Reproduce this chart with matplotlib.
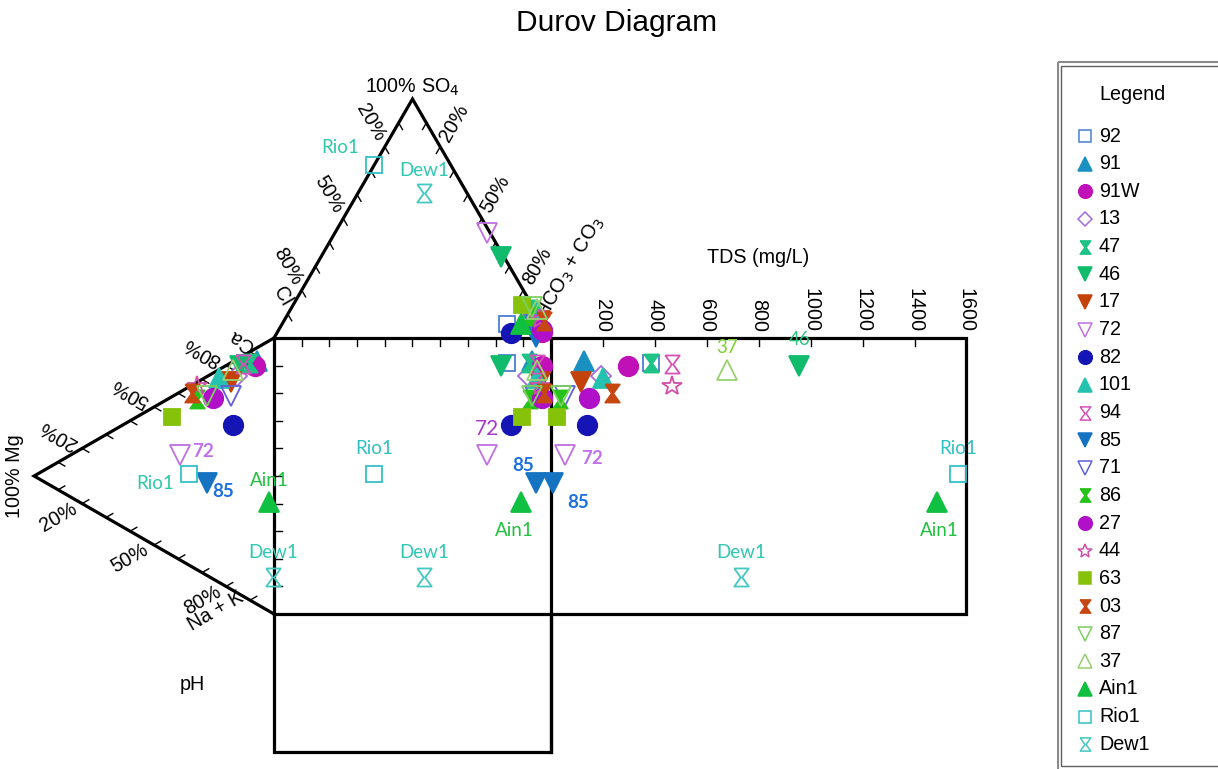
import numpy as np
import matplotlib
matplotlib.use('Agg')
import matplotlib.pyplot as plt
from matplotlib.patches import Rectangle

plt.rcParams['font.family'] = ['Liberation Sans', 'DejaVu Sans']

# sample chemistry: cation % (Na+K is the rest), anion % (Cl is the rest), TDS in mg/L
samples = ['92', '91', '91W', '13', '47', '46', '17', '72', '82', '101', '94', '85',
           '71', '86', '27', '44', '63', '03', '87', '37', 'Ain1', 'Rio1', 'Dew1']
ca = [85, 88, 86, 78.5, 86, 83, 75, 38, 60, 74, 84, 33.5,
      70, 62, 65.5, 66.5, 50, 63, 65, 80, 39.5, 33, 13]
mg = [12, 7, 8, 15.5, 10, 14, 18, 39, 17, 23, 13, 28,
      18, 32, 25.5, 32, 42.5, 34, 28, 17, 2, 35.5, 0.5]
so4 = [6, 8, 2.5, 7.5, 12, 34, 7, 44, 2, 11, 8, 0.5,
       5.5, 9, 3.5, 8, 14, 7, 13, 12, 6, 72.5, 60.5]
hco3 = [81, 89, 95.5, 88, 86, 65, 92.5, 55, 84.5, 89.5, 91, 94.5,
        91.5, 88, 95, 92, 82.5, 94, 86.5, 89, 86, 0, 24]
tds = [386, 127, 297, 193, 386, 956, 116, 54, 139, 200, 466, 8,
       54, 35, 146, 466, 23, 235, 40, 678, 1488, 1569, 732]

tds_ticks = [200, 400, 600, 800, 1000, 1200, 1400, 1600]
pct_ticks = [20, 50, 80]

HG = [(-0.8, 1), (0.8, 1), (0.08, 0), (0.8, -1), (-0.8, -1), (-0.08, 0), (-0.8, 1)]
# marker, colour, filled
styles = [('s', '#4a7fd0', False), ('^', '#1a90c0', True), ('o', '#c010b8', True),
          ('D', '#a56ad8', False), (HG, '#1ec285', True), ('v', '#10bb6c', True),
          ('v', '#c4420a', True), ('v', '#c070e0', False), ('o', '#1515b5', True),
          ('^', '#25c2b0', True), (HG, '#d452b8', False), ('v', '#1673c2', True),
          ('v', '#6060d8', False), (HG, '#26c21a', True), ('o', '#b010c8', True),
          ('*', '#d050a8', False), ('s', '#86c20a', True), (HG, '#c64810', True),
          ('v', '#7dd060', False), ('^', '#98d070', False), ('^', '#10c040', True),
          ('s', '#35c0c8', False), (HG, '#45c8c0', False)]


def msize(m, legend=False):
    if isinstance(m, list):
        return 9.5 if legend else 13
    base = {'o': 14, 's': 11.5, '^': 14, 'v': 14, 'D': 10.5, '*': 15}[m]
    return base * (0.7 if legend else 1)


H = np.sqrt(3) / 2
TDS_W = 1.5        # width of the TDS panel relative to the square
TDS_MAX = 1600.0

fig = plt.figure(figsize=(12.18, 7.69), dpi=100)
ax = fig.add_axes([0, 0, 1, 1])
ax.set_xlim(-274 / 277, (1218 - 274) / 277)
ax.set_ylim(-155 / 276, 614 / 276)
ax.axis('off')

LW = 2.3
# outlines: anion triangle, cation triangle, square + TDS panel, pH panel
ax.plot([0, 0.5, 1], [1, 1 + H, 1], color='black', lw=LW, solid_joinstyle='miter')
ax.plot([0, -H, 0], [1, 0.5, 0], color='black', lw=LW, solid_joinstyle='miter')
ax.plot([0, 1 + TDS_W, 1 + TDS_W, 0, 0], [0, 0, 1, 1, 0], color='black', lw=LW,
        solid_joinstyle='miter')
ax.plot([1, 1], [-0.5, 1], color='black', lw=LW)
ax.plot([0, 0, 1, 1], [0, -0.5, -0.5, 0], color='black', lw=LW, solid_joinstyle='miter')

TL = 0.028
fr = np.arange(1, 10) / 10.0


def ticks(p0, p1, d, pos=fr):
    for f in pos:
        px = p0[0] + f * (p1[0] - p0[0])
        py = p0[1] + f * (p1[1] - p0[1])
        ax.plot([px, px + TL * d[0]], [py, py + TL * d[1]], color='black', lw=1)


apex = (0.5, 1 + H)
ticks(apex, (0, 1), (0.5, -H))
ticks(apex, (1, 1), (-0.5, -H))
ticks((0, 1), (1, 1), (0, -1))
ticks((0, 0), (0, 1), (1, 0))
ticks((-H, 0.5), (0, 1), (H, -0.5))
ticks((-H, 0.5), (0, 0), (H, 0.5))
ticks((1, 1), (1 + TDS_W, 1), (0, -1), pos=np.array(tds_ticks[:-1]) / TDS_MAX)

FS = 14.2
OFF = 0.1
for p in pct_ticks:
    f = p / 100.0
    # Cl along the left side of the anion triangle
    x, y = 0.5 - 0.5 * f, 1 + H - H * f
    ax.text(x - OFF * 0.5, y + OFF * H, f'{p}%', rotation=-60, ha='center', va='center',
            fontsize=FS, rotation_mode='anchor')
    # HCO3 + CO3 along the right side
    x, y = 0.5 + 0.5 * f, 1 + H - H * f
    ax.text(x + OFF * 0.5, y + OFF * H, f'{p}%', rotation=60, ha='center', va='center',
            fontsize=FS, rotation_mode='anchor')
    # Ca along the upper side of the cation triangle
    x, y = -H + H * f, 0.5 + 0.5 * f
    ax.text(x - OFF * H, y + OFF * 0.5, f'{p}%', rotation=150, ha='center', va='center',
            fontsize=FS, rotation_mode='anchor')
    # Na + K along the lower side
    x, y = -H + H * f, 0.5 - 0.5 * f
    ax.text(x - OFF * H, y - OFF * 0.5, f'{p}%', rotation=30, ha='center', va='center',
            fontsize=FS, rotation_mode='anchor')

ax.text(0.5, 1.909, '100% SO$_4$', ha='center', va='center', fontsize=FS)
ax.text(0.03, 1.15, 'Cl', rotation=-60, ha='center', va='center', fontsize=FS,
        rotation_mode='anchor')
ax.text(1.07, 1.255, 'HCO$_3$ + CO$_3$', rotation=60, ha='center', va='center',
        fontsize=FS, rotation_mode='anchor')
ax.text(-0.118, 0.99, 'Ca', rotation=150, ha='center', va='center', fontsize=FS,
        rotation_mode='anchor')
ax.text(-0.21, 0.01, 'Na + K', rotation=30, ha='center', va='center', fontsize=FS,
        rotation_mode='anchor')
ax.text(-H - 0.035, 0.5, '100% Mg', rotation=90, ha='right', va='center', fontsize=FS)
for t in tds_ticks:
    ax.text(1 + TDS_W * t / TDS_MAX, 1.02, str(t), rotation=270, ha='center', va='bottom',
            fontsize=FS)
ax.text(1.747, 1.29, 'TDS (mg/L)', ha='center', va='center', fontsize=FS)
ax.text(-0.296, -0.257, 'pH', ha='center', va='center', fontsize=FS)

# projected positions of each sample
ca_a, mg_a = np.array(ca) / 100, np.array(mg) / 100
so4_a, hco3_a = np.array(so4) / 100, np.array(hco3) / 100
an_x = hco3_a + 0.5 * so4_a
an_y = 1 + H * so4_a
cat_x = -H * mg_a
cat_y = ca_a + 0.5 * mg_a
tds_x = 1 + TDS_W * np.array(tds) / TDS_MAX

pos = {}
for i, name in enumerate(samples):
    m, c, filled = styles[i]
    xs = [an_x[i], cat_x[i], an_x[i], tds_x[i]]
    ys = [an_y[i], cat_y[i], cat_y[i], cat_y[i]]
    ax.plot(xs, ys, ls='none', marker=m, ms=msize(m), mec=c,
            mfc=c if filled else 'none', mew=1.3, zorder=3 + i * 0.01)
    pos[name] = list(zip(xs, ys))

# point labels: sample, panel (0 anion, 1 cation, 2 square, 3 TDS), offset px, colour, bold
point_labels = [
    ('Rio1', 0, -34, 17, '#2fc8a8', False), ('Rio1', 1, -34, -10, '#2fc8a8', False),
    ('Rio1', 2, 0, 25, '#2fc0c0', False), ('Rio1', 3, 0, 25, '#2fc0c0', False),
    ('Dew1', 0, 0, 23, '#2fc8b0', False), ('Dew1', 1, 0, 25, '#2fc8b0', False),
    ('Dew1', 2, 0, 25, '#2fc8b0', False), ('Dew1', 3, 0, 25, '#2fc8b0', False),
    ('Ain1', 1, 0, 22, '#22c040', False), ('Ain1', 2, -6, -28, '#22c040', False),
    ('Ain1', 3, 2, -28, '#22c040', False),
    ('72', 1, 23, 4, '#c070e8', True), ('72', 2, 0, 26, '#a838c8', False),
    ('72', 3, 27, -3, '#c070e8', True),
    ('85', 1, 16, -9, '#1a70e0', True), ('85', 2, -13, 17, '#1a70e0', True),
    ('85', 3, 25, -20, '#1a70e0', True),
    ('37', 3, 0, 22, '#80d030', False), ('46', 3, 0, 26, '#30c080', False),
]
for name, panel, dx, dy, col, bold in point_labels:
    big = name == '72' and panel == 2
    ax.annotate(name, pos[name][panel], xytext=(dx, dy), textcoords='offset pixels',
                ha='center', va='center', fontsize=15 if big else 13.5,
                color=col, fontweight='bold' if bold else 'normal',
                family=['Lato', 'DejaVu Sans'], zorder=5)

fig.text(617 / 1218, 1 - 23 / 769, 'Durov Diagram', ha='center', va='center', fontsize=21.5)

# legend panel
lg = fig.add_axes([1057 / 1218, 0, (1218 - 1057) / 1218, 1])
lg.set_xlim(1057, 1218)
lg.set_ylim(769, 0)
lg.axis('off')
lg.add_patch(Rectangle((1057.8, 62), 300, 800, fill=False, ec='#8a8a8a', lw=1.5))
lg.add_patch(Rectangle((1061.5, 66), 300, 700, fill=False, ec='#606060', lw=1))
lg.text(1133, 94, 'Legend', ha='center', va='center', fontsize=FS)
for i, name in enumerate(samples):
    m, c, filled = styles[i]
    y = 136 + i * 27.65
    lg.plot([1085], [y], ls='none', marker=m, ms=msize(m, True), mec=c,
            mfc=c if filled else 'none', mew=1.1)
    lg.text(1099, y, name, ha='left', va='center', fontsize=FS)

fig.savefig('out.png', dpi=100)
